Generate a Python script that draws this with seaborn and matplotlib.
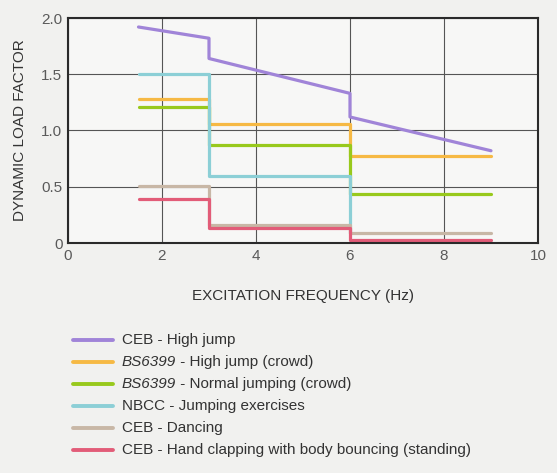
import matplotlib
matplotlib.use("Agg")
import matplotlib.pyplot as plt
from matplotlib.lines import Line2D
import seaborn as sns
import pandas as pd

# Dynamic load factor curves (frequency in Hz, factor)
ceb_high_jump_x = [1.5, 3.0, 3.0, 6.0, 6.0, 9.0]
ceb_high_jump_y = [1.92, 1.82, 1.64, 1.33, 1.12, 0.82]

bs_high_jump_x = [1.5, 3.0, 3.0, 6.0, 6.0, 9.0]
bs_high_jump_y = [1.28, 1.28, 1.06, 1.06, 0.77, 0.77]

bs_normal_x = [1.5, 3.0, 3.0, 6.0, 6.0, 9.0]
bs_normal_y = [1.21, 1.21, 0.87, 0.87, 0.44, 0.44]

nbcc_x = [1.5, 3.0, 3.0, 6.0, 6.0]
nbcc_y = [1.50, 1.50, 0.60, 0.60, 0.09]

ceb_dancing_x = [1.5, 3.0, 3.0, 6.0, 6.0, 9.0]
ceb_dancing_y = [0.51, 0.51, 0.16, 0.16, 0.09, 0.09]

ceb_clapping_x = [1.5, 3.0, 3.0, 6.0, 6.0, 9.0]
ceb_clapping_y = [0.39, 0.39, 0.13, 0.13, 0.03, 0.03]

# legend text: (italic code prefix, remainder)
series_codes = ["", "BS6399", "BS6399", "", "", ""]
series_names = [
    "CEB - High jump",
    " - High jump (crowd)",
    " - Normal jumping (crowd)",
    "NBCC - Jumping exercises",
    "CEB - Dancing",
    "CEB - Hand clapping with body bouncing (standing)",
]
series_labels = [c + n for c, n in zip(series_codes, series_names)]
series_colors = ["#a084d8", "#f6b944", "#98c91c", "#8ccfd6", "#c8b7a6", "#e25c78"]

xs = [ceb_high_jump_x, bs_high_jump_x, bs_normal_x, nbcc_x, ceb_dancing_x, ceb_clapping_x]
ys = [ceb_high_jump_y, bs_high_jump_y, bs_normal_y, nbcc_y, ceb_dancing_y, ceb_clapping_y]

frames = []
for lab, x, y in zip(series_labels, xs, ys):
    frames.append(pd.DataFrame({"freq": x, "factor": y, "series": lab}))
df = pd.concat(frames, ignore_index=True)

sns.set_theme(style="white")
plt.rcParams["font.family"] = ["Liberation Sans", "DejaVu Sans"]

W, H = 557, 473
fig = plt.figure(figsize=(W / 100, H / 100), dpi=100, facecolor="#f1f1ef")
ax = fig.add_axes([68 / W, 1 - 243 / H, 470 / W, 225 / H])
ax.set_facecolor("#f7f7f6")

palette = dict(zip(series_labels, series_colors))
sns.lineplot(data=df, x="freq", y="factor", hue="series", hue_order=series_labels,
             palette=palette, sort=False, estimator=None, linewidth=2.3,
             ax=ax, legend=False)

ax.set_xlim(0, 10)
ax.set_ylim(0, 2.0)
ax.set_xticks([0, 2, 4, 6, 8, 10])
ax.set_xticklabels(["0", "2", "4", "6", "8", "10"])
ax.set_yticks([0, 0.5, 1.0, 1.5, 2.0])
ax.set_yticklabels(["0", "0.5", "1.0", "1.5", "2.0"])
ax.grid(True, color="#555555", linewidth=0.8)
ax.set_axisbelow(True)
for s in ax.spines.values():
    s.set_color("#2a2a2a")
    s.set_linewidth(1.5)
ax.tick_params(axis="both", length=0, labelsize=11, colors="#5a5a5a", pad=4)
ax.set_xlabel("EXCITATION FREQUENCY (Hz)", fontsize=11, color="#333333", labelpad=19)
ax.set_ylabel("DYNAMIC LOAD FACTOR", fontsize=11, color="#333333", labelpad=10)

# legend rows below the plot
for i, (code, name, color) in enumerate(zip(series_codes, series_names, series_colors)):
    yc = 1 - (340 + 22 * i) / H
    fig.add_artist(Line2D([73 / W, 113 / W], [yc, yc], color=color, linewidth=2.8,
                          transform=fig.transFigure))
    if code:
        t = fig.text(122 / W, yc, code, fontsize=11, style="italic",
                     color="#333333", va="center", ha="left")
        fig.add_artist(plt.Annotation(name, xy=(1, 0), xycoords=t, va="bottom",
                                      ha="left", fontsize=11, color="#333333"))
    else:
        fig.text(122 / W, yc, name, fontsize=11, color="#333333", va="center", ha="left")

fig.savefig("out.png", dpi=100, facecolor=fig.get_facecolor())
